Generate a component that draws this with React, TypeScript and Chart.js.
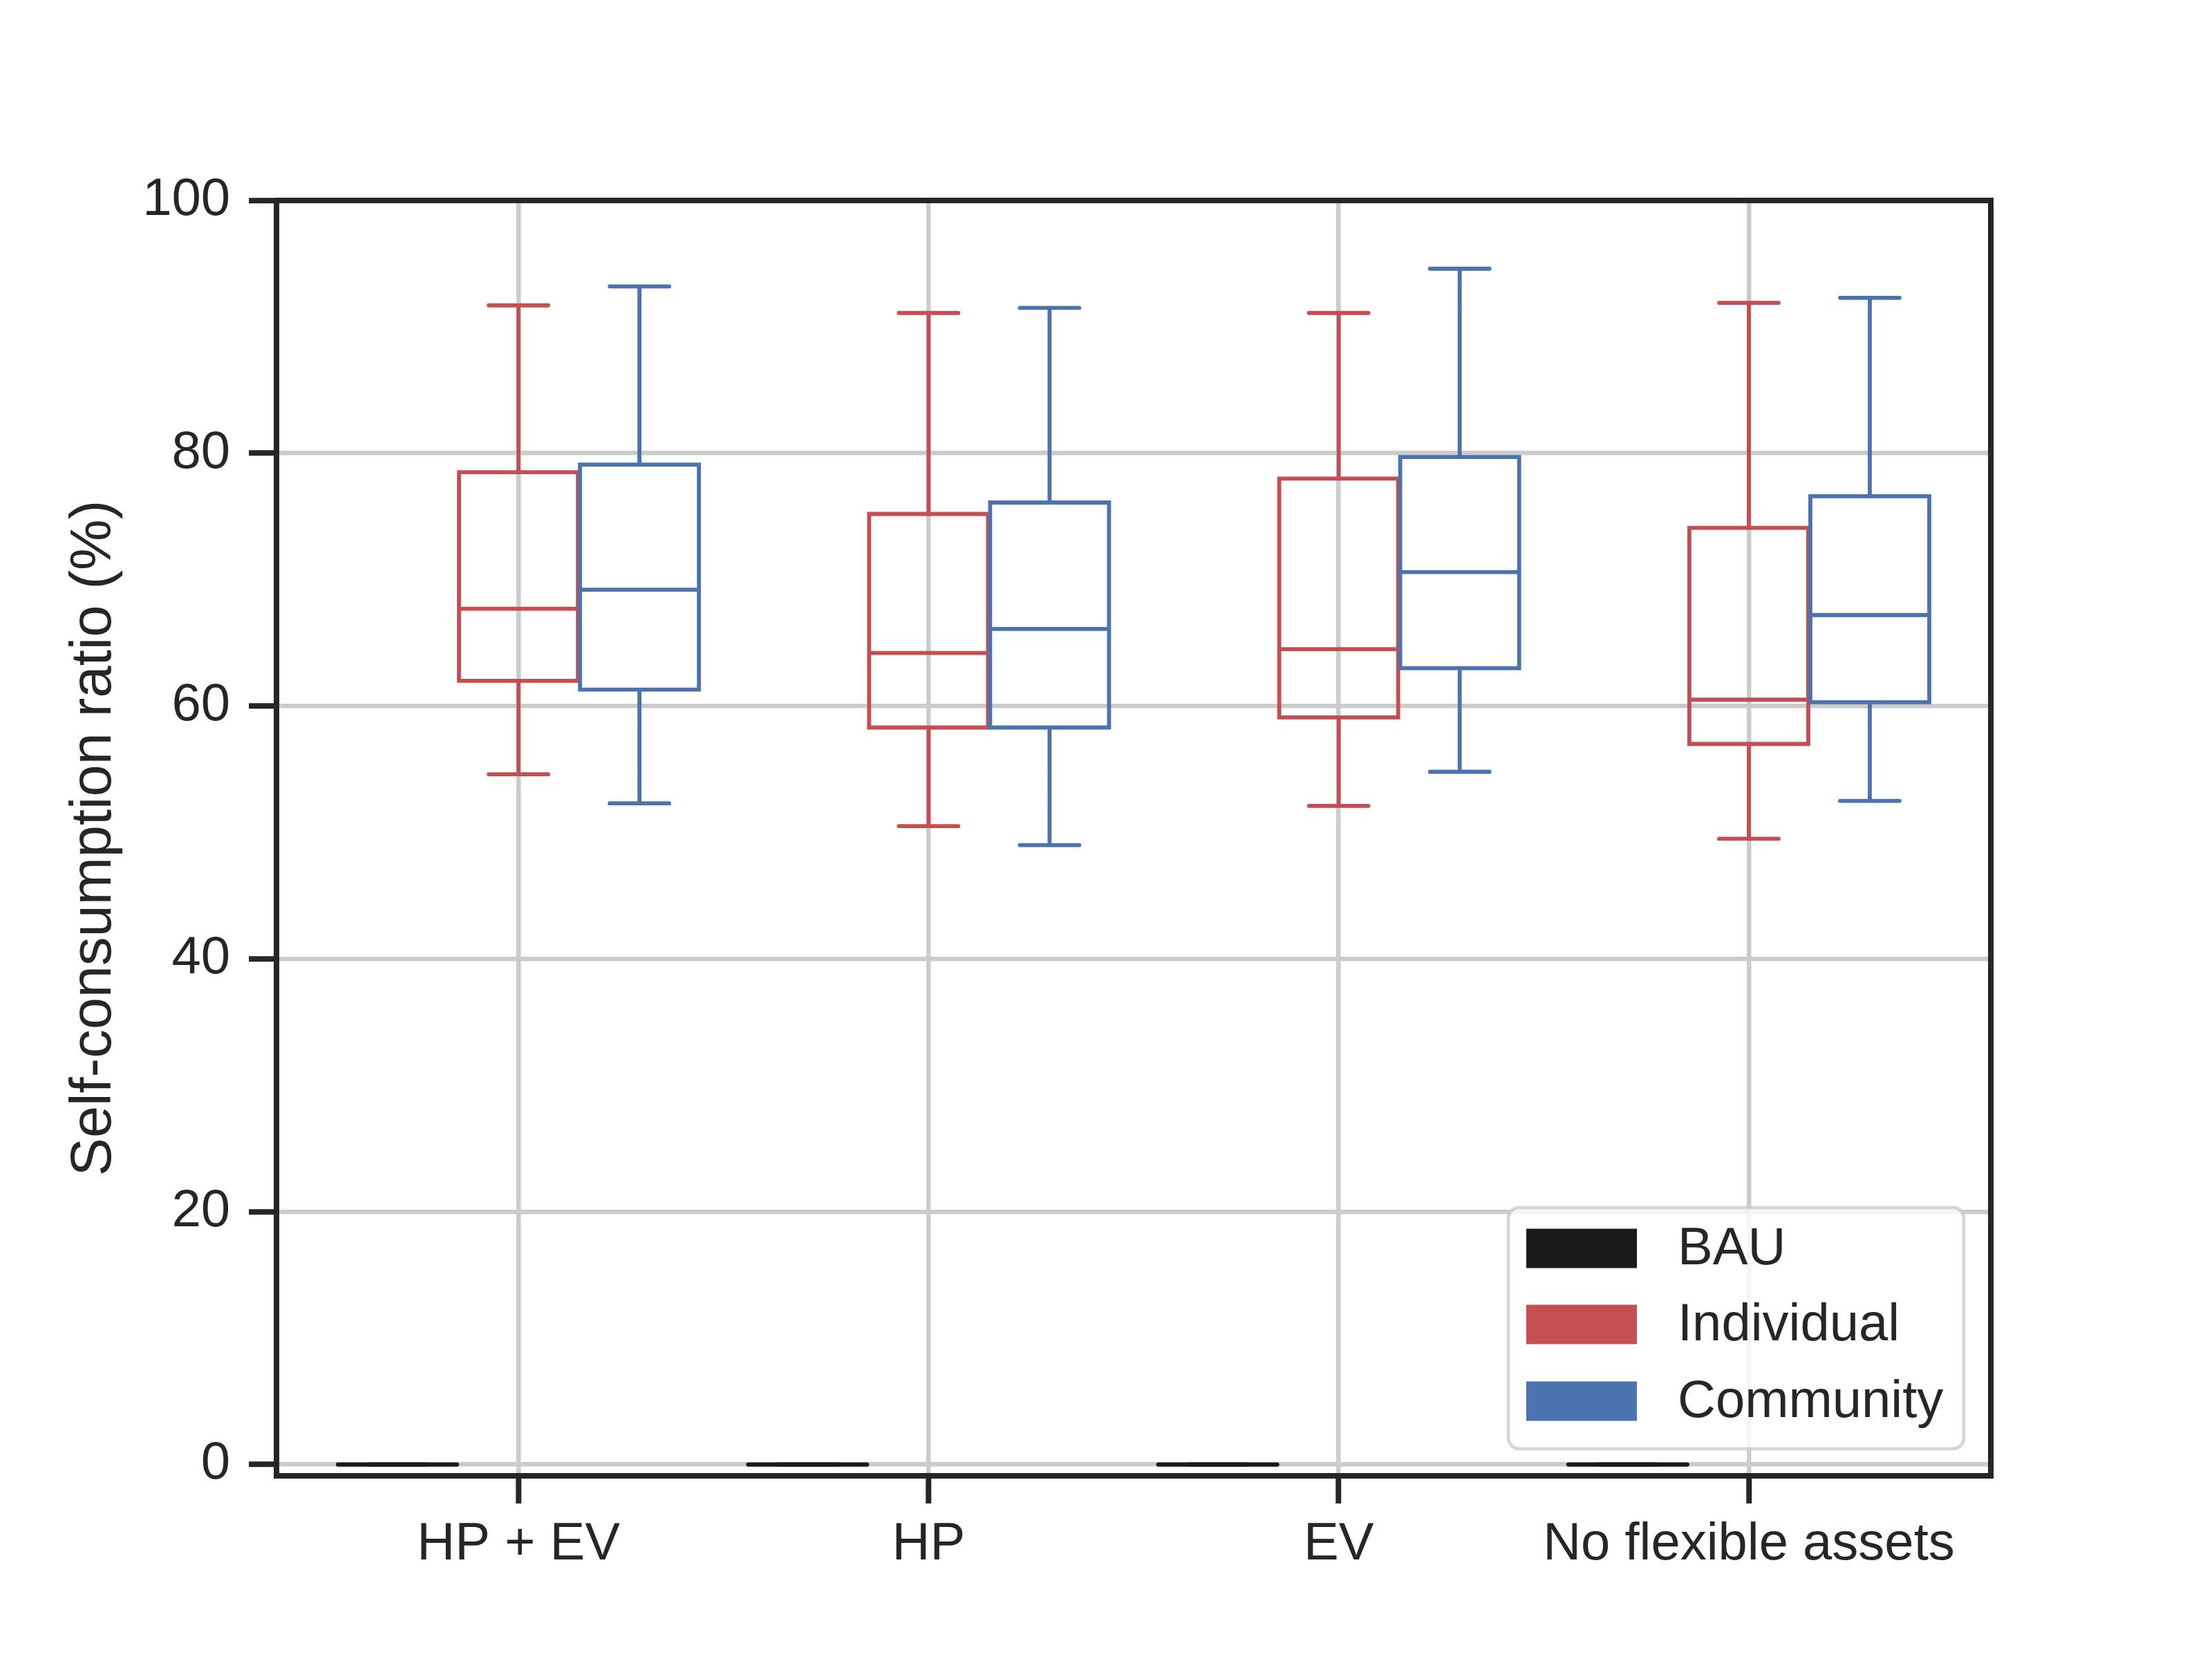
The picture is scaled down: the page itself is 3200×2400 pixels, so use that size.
import { useEffect, useRef } from "react";
import { Chart, registerables } from "chart.js";

Chart.register(...registerables);

// categories and groups
const categories = ["HP + EV", "HP", "EV", "No flexible assets"];
const groupNames = ["BAU", "Individual", "Community"];
const groupColors = ["#1a1a1a", "#c44e52", "#4c72b0"];

// box stats (whisker low, q1, median, q3, whisker high)
const bauLow = [0, 0, 0, 0];
const bauQ1 = [0, 0, 0, 0];
const bauMedian = [0, 0, 0, 0];
const bauQ3 = [0, 0, 0, 0];
const bauHigh = [0, 0, 0, 0];

const individualLow = [54.6, 50.5, 52.1, 49.5];
const individualQ1 = [62.0, 58.3, 59.1, 57.0];
const individualMedian = [67.7, 64.2, 64.5, 60.5];
const individualQ3 = [78.5, 75.2, 78.0, 74.1];
const individualHigh = [91.7, 91.1, 91.1, 91.9];

const communityLow = [52.3, 49.0, 54.8, 52.5];
const communityQ1 = [61.3, 58.3, 63.0, 60.3];
const communityMedian = [69.2, 66.1, 70.6, 67.2];
const communityQ3 = [79.1, 76.1, 79.7, 76.6];
const communityHigh = [93.2, 91.5, 94.6, 92.3];

const yTicks = [0, 20, 40, 60, 80, 100];

// layout of the boxes around each category
const groupOffsets = [-0.295, 0, 0.295];
const boxWidth = 0.29;
const capWidth = 0.145;

const FONT = "'Liberation Sans', Arial, sans-serif";
const TEXT = "#262626";

type Pt = { x: number; y: number | null };

function buildBoxDatasets(
  color: string,
  offset: number,
  low: number[],
  q1: number[],
  med: number[],
  q3: number[],
  high: number[],
  order: number,
  roundBox = false
) {
  const rect: Pt[] = [];
  const median: Pt[] = [];
  const whisk: Pt[] = [];
  categories.forEach((_, i) => {
    const c = i + offset;
    const x0 = c - boxWidth / 2;
    const x1 = c + boxWidth / 2;
    rect.push(
      { x: x0, y: q1[i] },
      { x: x1, y: q1[i] },
      { x: x1, y: q3[i] },
      { x: x0, y: q3[i] },
      { x: x0, y: q1[i] },
      { x: x1, y: q1[i] },
      { x: c, y: null }
    );
    median.push({ x: x0, y: med[i] }, { x: x1, y: med[i] }, { x: c, y: null });
    whisk.push(
      { x: c, y: q3[i] },
      { x: c, y: high[i] },
      { x: c, y: null },
      { x: c, y: q1[i] },
      { x: c, y: low[i] },
      { x: c, y: null },
      { x: c - capWidth / 2, y: high[i] },
      { x: c + capWidth / 2, y: high[i] },
      { x: c, y: null },
      { x: c - capWidth / 2, y: low[i] },
      { x: c + capWidth / 2, y: low[i] },
      { x: c, y: null }
    );
  });
  const common = {
    showLine: true,
    spanGaps: false,
    pointRadius: 0,
    borderColor: color,
    borderWidth: 5.8,
    fill: false,
    order,
  };
  return [
    {
      ...common,
      data: rect,
      borderJoinStyle: (roundBox ? "round" : "miter") as any,
      borderCapStyle: (roundBox ? "round" : "butt") as any,
    },
    { ...common, data: median, borderCapStyle: (roundBox ? "round" : "butt") as any },
    { ...common, data: whisk, borderCapStyle: "round" as const },
  ];
}

const framePlugin = {
  id: "frameAndLegend",
  afterDraw(chart: Chart) {
    const { ctx, chartArea } = chart;
    ctx.save();
    // spines
    ctx.strokeStyle = TEXT;
    ctx.lineWidth = 8;
    ctx.strokeRect(chartArea.left, chartArea.top, chartArea.right - chartArea.left, chartArea.bottom - chartArea.top);

    // legend box in the lower right corner
    const w = 659;
    const h = 349;
    const x0 = chartArea.right - 39 - w;
    const y0 = chartArea.bottom - 39 - h;
    ctx.beginPath();
    ctx.roundRect(x0, y0, w, h, 16);
    ctx.fillStyle = "rgba(255,255,255,0.8)";
    ctx.fill();
    ctx.strokeStyle = "rgba(204,204,204,0.8)";
    ctx.lineWidth = 5;
    ctx.stroke();

    const rows = [59, 169, 280];
    ctx.font = `76px ${FONT}`;
    ctx.textBaseline = "middle";
    ctx.textAlign = "left";
    groupNames.forEach((name, i) => {
      const cy = y0 + rows[i];
      ctx.fillStyle = groupColors[i];
      ctx.fillRect(x0 + 26, cy - 28.5, 160, 57);
      ctx.fillStyle = TEXT;
      ctx.fillText(name, x0 + 245, cy + 2);
    });
    ctx.restore();
  },
};

const App = () => {
  const canvasRef = useRef<HTMLCanvasElement>(null);

  useEffect(() => {
    document.body.style.margin = "0";
    if (!canvasRef.current) return;

    const datasets = [
      ...buildBoxDatasets(groupColors[2], groupOffsets[2], communityLow, communityQ1, communityMedian, communityQ3, communityHigh, 0),
      ...buildBoxDatasets(groupColors[1], groupOffsets[1], individualLow, individualQ1, individualMedian, individualQ3, individualHigh, 1),
      ...buildBoxDatasets(groupColors[0], groupOffsets[0], bauLow, bauQ1, bauMedian, bauQ3, bauHigh, 2, true),
    ];

    const chart = new Chart(canvasRef.current, {
      type: "scatter",
      data: { datasets: datasets as any },
      options: {
        animation: false,
        responsive: true,
        maintainAspectRatio: false,
        devicePixelRatio: 1,
        layout: { padding: { top: 290, right: 320, left: 0, bottom: 0 } },
        plugins: {
          legend: { display: false },
          tooltip: { enabled: false },
        },
        scales: {
          x: {
            type: "linear",
            min: -0.59,
            max: 3.59,
            afterBuildTicks: (scale: any) => {
              scale.ticks = categories.map((_, i) => ({ value: i }));
            },
            afterFit: (scale: any) => {
              scale.height = 265;
            },
            border: { display: false },
            grid: {
              color: "#cccccc",
              lineWidth: 6.5,
              tickColor: TEXT,
              tickWidth: 8,
              tickLength: 40,
            },
            ticks: {
              autoSkip: false,
              maxRotation: 0,
              padding: 14,
              color: TEXT,
              font: { family: FONT, size: 76 },
              callback: (v: any) => categories[Number(v)] ?? "",
            },
          },
          y: {
            type: "linear",
            min: -0.9,
            max: 100,
            afterBuildTicks: (scale: any) => {
              scale.ticks = yTicks.map((v) => ({ value: v }));
            },
            afterFit: (scale: any) => {
              scale.width = 400;
            },
            border: { display: false },
            grid: {
              color: "#cccccc",
              lineWidth: 6.5,
              tickColor: TEXT,
              tickWidth: 8,
              tickLength: 40,
            },
            ticks: {
              padding: 27,
              color: TEXT,
              font: { family: FONT, size: 76 },
              callback: (v: any) => String(v),
            },
            title: {
              display: true,
              text: "Self-consumption ratio (%)",
              color: TEXT,
              font: { family: FONT, size: 83 },
              padding: { top: 87, bottom: 0 },
            },
          },
        },
      },
      plugins: [framePlugin],
    });

    return () => {
      chart.destroy();
    };
  }, []);

  return (
    <div style={{ position: "relative", width: "3200px", height: "2400px", background: "#ffffff" }}>
      <canvas ref={canvasRef}></canvas>
    </div>
  );
};

export default App;
